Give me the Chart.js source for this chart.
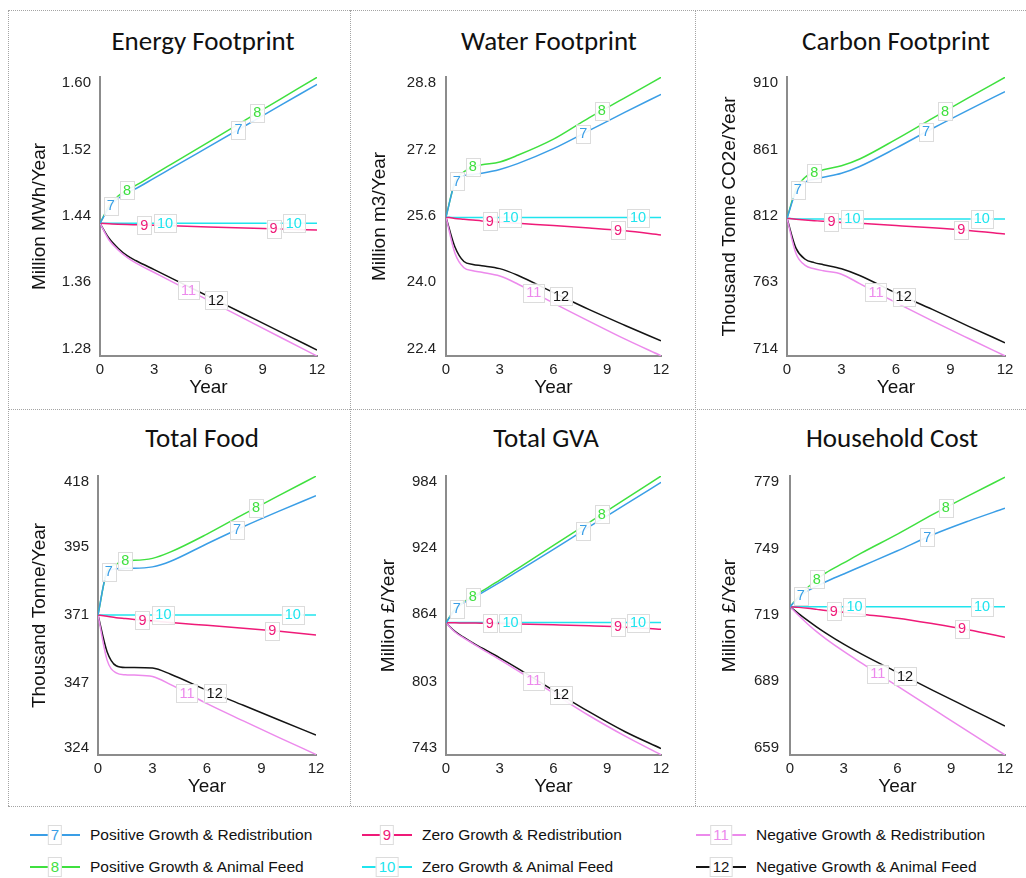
<!DOCTYPE html>
<html>
<head>
<meta charset="utf-8">
<title>Scenario footprints</title>
<script src="https://cdn.jsdelivr.net/npm/chart.js@4.4.1/dist/chart.umd.min.js"></script>
<style>
    html, body { margin: 0; padding: 0; background: #fff; }
    body { width: 1026px; height: 878px; position: relative; overflow: hidden;
           font-family: "Liberation Sans", Arial, sans-serif; color: #111; }
    .rule-h { position: absolute; height: 0; border-top: 1px dotted #a4a4a4; }
    .rule-v { position: absolute; width: 0; border-left: 1px dotted #a4a4a4; }
    canvas { position: absolute; }
    .ptitle { position: absolute; font-family: Carlito, Lato, "Open Sans", sans-serif; font-size: 27px;
              font-weight: 400; white-space: nowrap; transform: translate(-50%, -50%); color: #111; }
    .lg-line { position: absolute; height: 2px; }
    .lg-num { position: absolute; background: #fff; border: 1px solid #dcdcdc; padding: 0 2px;
              font-size: 15px; line-height: 18px; transform: translate(-50%, -50%); }
    .lg-text { position: absolute; font-size: 15.5px; line-height: 20px; white-space: nowrap;
               transform: translateY(-50%); color: #111; }
</style>
</head>
<body>
<script>
    "use strict";

    const years = [0, 0.5, 1, 1.5, 2, 3, 4, 6, 8, 10, 12];
    const xTicks = [0, 3, 6, 9, 12];

    const seriesNums = ['7', '8', '9', '10', '11', '12'];
    const seriesNames = [
        'Positive Growth & Redistribution',
        'Positive Growth & Animal Feed',
        'Zero Growth & Redistribution',
        'Zero Growth & Animal Feed',
        'Negative Growth & Redistribution',
        'Negative Growth & Animal Feed'
    ];
    // year at which each series carries its number tag
    const labelYears = [[0.6, 7.66], [1.5, 8.7], [2.45, 9.6], [3.6, 10.72], [4.9], [6.42]];

    // order of rows in every *Values list: 7, 8, 9, 10, 11, 12
    const energyTicks = [1.28, 1.36, 1.44, 1.52, 1.60];
    const energyValues = [
        [1.431, 1.450, 1.461, 1.468, 1.473, 1.4856, 1.4981, 1.5232, 1.5483, 1.5734, 1.5985],
        [1.431, 1.452, 1.464, 1.471, 1.477, 1.490, 1.503, 1.529, 1.555, 1.581, 1.607],
        [1.431, 1.4305, 1.430, 1.4296, 1.4293, 1.4287, 1.428, 1.4267, 1.4255, 1.4242, 1.423],
        [1.431, 1.431, 1.431, 1.431, 1.431, 1.431, 1.431, 1.431, 1.431, 1.431, 1.431],
        [1.431, 1.411, 1.399, 1.390, 1.383, 1.3718, 1.3606, 1.3383, 1.3159, 1.2935, 1.2712],
        [1.431, 1.413, 1.401, 1.392, 1.386, 1.3752, 1.3645, 1.343, 1.3215, 1.300, 1.2784]
    ];

    const waterTicks = [22.4, 24.0, 25.6, 27.2, 28.8];
    const waterValues = [
        [25.57, 26.40, 26.57, 26.60, 26.63, 26.72, 26.86, 27.22, 27.66, 28.10, 28.53],
        [25.57, 26.42, 26.66, 26.78, 26.83, 26.90, 27.06, 27.45, 27.97, 28.45, 28.94],
        [25.57, 25.54, 25.52, 25.50, 25.48, 25.45, 25.42, 25.37, 25.31, 25.24, 25.14],
        [25.57, 25.56, 25.56, 25.56, 25.56, 25.56, 25.56, 25.56, 25.56, 25.56, 25.56],
        [25.57, 24.70, 24.35, 24.28, 24.24, 24.15, 23.96, 23.50, 23.06, 22.63, 22.23],
        [25.57, 24.85, 24.50, 24.43, 24.40, 24.33, 24.17, 23.75, 23.34, 22.96, 22.59]
    ];

    const carbonTicks = [714, 763, 812, 861, 910];
    const carbonValues = [
        [810.2, 830, 837, 839, 840.5, 843.5, 848.5, 862, 876.5, 890.3, 903.7],
        [810.2, 832, 840.5, 844, 846, 849, 854, 868.5, 884, 899.3, 914.3],
        [810.2, 809.6, 809, 808.5, 808, 807.2, 806.5, 804.9, 803.2, 801.2, 798.6],
        [810.2, 809.8, 809.8, 809.8, 809.8, 809.8, 809.8, 809.8, 809.8, 809.8, 809.8],
        [810.2, 784, 775.5, 773, 771.5, 769, 762, 748, 734.5, 721.5, 708.7],
        [810.2, 788, 780, 777.5, 776, 773, 768, 755, 743, 730.5, 718.4]
    ];

    const foodTicks = [324, 347, 371, 395, 418];
    const foodValues = [
        [371, 386, 387.3, 387.5, 387.5, 388, 390, 396.2, 402.2, 407.8, 413.2],
        [371, 386.5, 389, 390.2, 390.3, 391, 393.3, 399.6, 406.6, 413.4, 420.1],
        [371, 370.5, 370, 369.7, 369.4, 368.9, 368.3, 367.3, 366.3, 365.2, 363.9],
        [371, 371, 371, 371, 371, 371, 371, 371, 371, 371, 371],
        [371, 355, 350.5, 349.8, 349.7, 349.2, 346.3, 339.6, 333.5, 327.5, 321.6],
        [371, 358, 353, 352.4, 352.4, 352.2, 350, 344.3, 339, 333.7, 328.5]
    ];

    const gvaTicks = [743, 803, 864, 924, 984];
    const gvaValues = [
        [856.4, 868, 874.5, 879, 883.5, 893, 903, 923, 943.5, 963.5, 983.8],
        [856.4, 869, 875.5, 880, 885, 895, 905.5, 926.5, 947.5, 968.5, 989.5],
        [856.4, 856.3, 856.2, 856.1, 856, 855.6, 855.3, 854.5, 853.6, 852.4, 850.4],
        [856.6, 856.6, 856.6, 856.6, 856.6, 856.6, 856.6, 856.6, 856.6, 856.6, 856.6],
        [856.4, 848, 842.5, 837.5, 832.5, 823, 813, 792.5, 772, 753.5, 736.6],
        [856.4, 848.5, 843, 838, 833.5, 824.5, 815, 795, 775.5, 757.5, 742.3]
    ];

    const householdTicks = [659, 689, 719, 749, 779];
    const householdValues = [
        [722.7, 727, 730, 732, 734, 737.5, 741, 748, 755.3, 761.5, 767.2],
        [722.7, 727.5, 731.5, 735, 738, 742.5, 747, 755.5, 764.5, 773, 781.2],
        [722.7, 722.4, 722, 721.5, 721, 720.2, 719.3, 717.5, 715, 712.2, 708.9],
        [722.7, 722.7, 722.7, 722.7, 722.7, 722.7, 722.7, 722.7, 722.7, 722.7, 722.7],
        [722.7, 718.6, 714.8, 711.3, 708.2, 702.5, 697.2, 686.8, 676.4, 666, 655.7],
        [722.7, 719.5, 716.4, 713.5, 710.8, 705.8, 701.3, 693, 684.8, 676.8, 668.8]
    ];

    // ---- look ----
    const seriesColors = ['#3a9ee6', '#3fe03f', '#ef1a78', '#20e4ee', '#ec8aec', '#141414'];
    const FONT = '"Liberation Sans", Arial, sans-serif';
    const AXIS_GREY = '#8c8c8c';
    // the end tick labels sit a little inside the axis ends
    const PAD_BELOW = 0.11, PAD_ABOVE = 0.092;
    const PLOT_TOP = 67, PLOT_BOTTOM = 346;     // inside each cell canvas
    const X_TITLE_Y = 378;

    const cols = [{x0: 8, x1: 350}, {x0: 350, x1: 695}, {x0: 695, x1: 1026}];
    const rows = [{y0: 10, y1: 409, titleY: 40}, {y0: 409, y1: 806, titleY: 437}];

    const panels = [
        {title: 'Energy Footprint', yTitle: 'Million MWh/Year', ticks: energyTicks, values: energyValues, decimals: 2,
         col: 0, row: 0, plotLeft: 100, plotRight: 317, titleX: 203, yTitleX: 40, tickGap: 9},
        {title: 'Water Footprint', yTitle: 'Million m3/Year', ticks: waterTicks, values: waterValues, decimals: 1,
         col: 1, row: 0, plotLeft: 446, plotRight: 661, titleX: 549, yTitleX: 380, tickGap: 10},
        {title: 'Carbon Footprint', yTitle: 'Thousand Tonne CO2e/Year', ticks: carbonTicks, values: carbonValues, decimals: 0,
         col: 2, row: 0, plotLeft: 787, plotRight: 1005, titleX: 896, yTitleX: 730, tickGap: 9},
        {title: 'Total Food', yTitle: 'Thousand Tonne/Year', ticks: foodTicks, values: foodValues, decimals: 0,
         col: 0, row: 1, plotLeft: 98, plotRight: 316, titleX: 202, yTitleX: 40, tickGap: 9},
        {title: 'Total GVA', yTitle: 'Million £/Year', ticks: gvaTicks, values: gvaValues, decimals: 0,
         col: 1, row: 1, plotLeft: 446, plotRight: 661, titleX: 546, yTitleX: 389, tickGap: 9},
        {title: 'Household Cost', yTitle: 'Million £/Year', ticks: householdTicks, values: householdValues, decimals: 0,
         col: 2, row: 1, plotLeft: 790, plotRight: 1005, titleX: 892, yTitleX: 730, tickGap: 11}
    ];

    Chart.defaults.font.family = FONT;
    Chart.defaults.color = '#222';

    function interp(xs, ys, x) {
        for (var i = 1; i < xs.length; i++) {
            if (x <= xs[i]) {
                var t = (x - xs[i - 1]) / (xs[i] - xs[i - 1]);
                return ys[i - 1] + t * (ys[i] - ys[i - 1]);
            }
        }
        return ys[ys.length - 1];
    }

    // boxed series numbers sitting on the curves
    const lineTags = {
        id: 'lineTags',
        afterDatasetsDraw: function (chart) {
            const ctx = chart.ctx;
            const xs = chart.scales.x, ys = chart.scales.y;
            ctx.save();
            ctx.font = '14.5px ' + FONT;
            ctx.textAlign = 'center';
            ctx.textBaseline = 'middle';
            chart.data.datasets.forEach(function (ds, i) {
                const vals = ds.data.map(function (p) { return p.y; });
                labelYears[i].forEach(function (yr) {
                    const px = xs.getPixelForValue(yr);
                    const py = ys.getPixelForValue(interp(years, vals, yr));
                    const w = ctx.measureText(seriesNums[i]).width + 6;
                    ctx.fillStyle = 'rgba(255,255,255,0.92)';
                    ctx.fillRect(px - w / 2, py - 9, w, 18);
                    ctx.strokeStyle = '#dcdcdc';
                    ctx.lineWidth = 1;
                    ctx.strokeRect(Math.round(px - w / 2) + 0.5, Math.round(py - 9) + 0.5, Math.round(w), 18);
                    ctx.fillStyle = seriesColors[i];
                    ctx.fillText(seriesNums[i], px, py + 0.5);
                });
            });
            ctx.restore();
        }
    };

    function addRule(cls, x, y, len) {
        const d = document.createElement('div');
        d.className = cls;
        d.style.left = x + 'px';
        d.style.top = y + 'px';
        if (cls === 'rule-h') d.style.width = len + 'px'; else d.style.height = len + 'px';
        document.body.appendChild(d);
    }

    function renderPanel(p) {
        const col = cols[p.col], row = rows[p.row];
        const w = col.x1 - col.x0, h = row.y1 - row.y0;

        const t = document.createElement('div');
        t.className = 'ptitle';
        t.textContent = p.title;
        t.style.left = p.titleX + 'px';
        t.style.top = row.titleY + 'px';
        document.body.appendChild(t);

        const canvas = document.createElement('canvas');
        canvas.width = w;
        canvas.height = h;
        canvas.style.left = col.x0 + 'px';
        canvas.style.top = row.y0 + 'px';
        canvas.style.width = w + 'px';
        canvas.style.height = h + 'px';
        document.body.appendChild(canvas);

        const step = (p.ticks[4] - p.ticks[0]) / 4;
        const yAxisW = p.plotLeft - col.x0;
        const xAxisH = h - PLOT_BOTTOM;

        new Chart(canvas, {
            type: 'line',
            data: {
                datasets: p.values.map(function (vals, i) {
                    return {
                        label: seriesNames[i],
                        data: years.map(function (yr, k) { return {x: yr, y: vals[k]}; }),
                        borderColor: seriesColors[i],
                        borderWidth: 1.5,
                        pointRadius: 0,
                        fill: false,
                        cubicInterpolationMode: 'monotone'
                    };
                })
            },
            options: {
                responsive: false,
                animation: false,
                events: [],
                layout: {padding: {left: 0, top: PLOT_TOP, right: w - (p.plotRight - col.x0), bottom: 0}},
                plugins: {legend: {display: false}, tooltip: {enabled: false}, title: {display: false}},
                scales: {
                    x: {
                        type: 'linear', min: 0, max: 12,
                        afterBuildTicks: function (s) { s.ticks = xTicks.map(function (v) { return {value: v}; }); },
                        afterFit: function (s) { s.height = xAxisH; },
                        grid: {display: false, drawTicks: false},
                        border: {display: true, color: AXIS_GREY, width: 2},
                        ticks: {padding: 5, color: '#222', font: {size: 15}, maxRotation: 0, autoSkip: false},
                        title: {display: true, text: 'Year', color: '#111', font: {size: 19},
                                padding: {top: 0, bottom: h - X_TITLE_Y - 11.4}}
                    },
                    y: {
                        type: 'linear',
                        min: p.ticks[0] - PAD_BELOW * step,
                        max: p.ticks[4] + PAD_ABOVE * step,
                        afterBuildTicks: function (s) { s.ticks = p.ticks.map(function (v) { return {value: v}; }); },
                        afterFit: function (s) { s.width = yAxisW; },
                        grid: {display: false, drawTicks: false},
                        border: {display: true, color: AXIS_GREY, width: 2},
                        ticks: {padding: p.tickGap, color: '#222', font: {size: 15},
                                callback: function (v) { return Number(v).toFixed(p.decimals); }},
                        title: {display: true, text: p.yTitle, color: '#111', font: {size: 19},
                                padding: {top: p.yTitleX - col.x0 - 11.4, bottom: 0}}
                    }
                }
            },
            plugins: [lineTags]
        });
    }

    function renderLegend() {
        const colX = [30, 362, 696];
        const rowY = [835, 867];
        seriesNames.forEach(function (name, i) {
            const x0 = colX[Math.floor(i / 2)], y = rowY[i % 2];
            const line = document.createElement('div');
            line.className = 'lg-line';
            line.style.left = x0 + 'px';
            line.style.top = (y - 1) + 'px';
            line.style.width = '50px';
            line.style.background = seriesColors[i];
            document.body.appendChild(line);

            const num = document.createElement('div');
            num.className = 'lg-num';
            num.textContent = seriesNums[i];
            num.style.left = (x0 + 25) + 'px';
            num.style.top = y + 'px';
            num.style.color = seriesColors[i];
            document.body.appendChild(num);

            const txt = document.createElement('div');
            txt.className = 'lg-text';
            txt.textContent = name;
            txt.style.left = (x0 + 60) + 'px';
            txt.style.top = y + 'px';
            document.body.appendChild(txt);
        });
    }

    addRule('rule-h', 8, 10, 1018);
    addRule('rule-h', 8, 409, 1018);
    addRule('rule-h', 8, 806, 1018);
    addRule('rule-v', 8, 10, 796);
    addRule('rule-v', 350, 10, 796);
    addRule('rule-v', 695, 10, 796);

    panels.forEach(renderPanel);
    renderLegend();
</script>
</body>
</html>
